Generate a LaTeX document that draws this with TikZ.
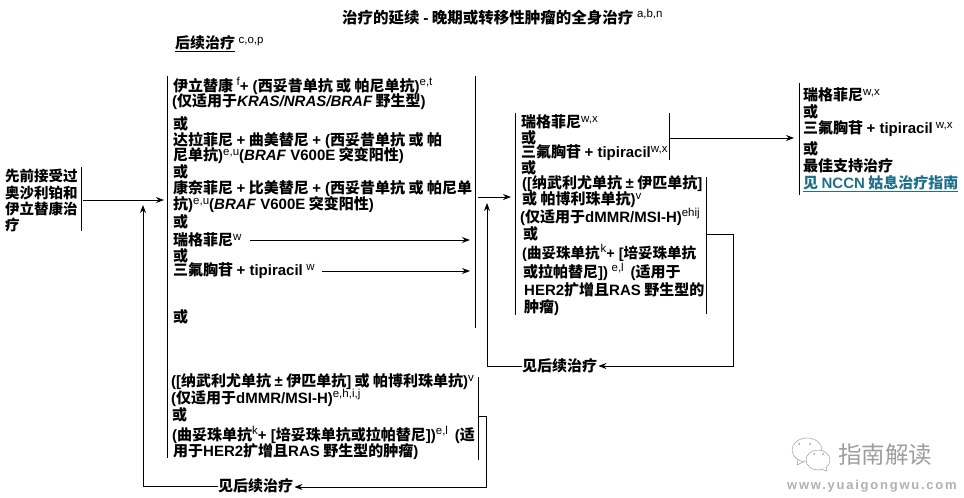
\documentclass[tikz,border=0pt]{standalone}
\usepackage{fontspec}
\setmainfont{Noto Sans CJK SC}
\newfontfamily\lat{Liberation Sans}
\usetikzlibrary{arrows.meta}
\definecolor{linkteal}{HTML}{1F6F8B}
\definecolor{markgray}{gray}{0.62}
\newcommand{\en}[1]{{\lat #1}}
\newcommand{\sps}[1]{\raisebox{5.5pt}{\fontsize{11.5}{11.5}\lat\mdseries #1}}
\tikzset{
  txt/.style={anchor=west, inner sep=0pt, font=\fontsize{15}{15}\selectfont\bfseries},
  txtsmall/.style={txt, font=\fontsize{14.5}{15}\selectfont\bfseries},
  bar/.style={line width=1pt},
  arr/.style={line width=1pt, -{Stealth[length=8pt,width=6pt]}}
}
\begin{document}
\begin{tikzpicture}[x=1pt,y=-1pt]
    \useasboundingbox (0,0) rectangle (964,498);

    % Title and heading
    \node[txt, font=\fontsize{15.5}{15.5}\selectfont\bfseries] (title) at (342,17) {治疗的延续 \en{-} 晚期或转移性肿瘤的全身治疗 \sps{a,b,n}};
    \node[txt] (nexthead) at (175,44) {\underline{后续治疗} \sps{c,o,p}};

    % Prior therapy
    \node[txtsmall] (priorA) at (5,176) {先前接受过};
    \node[txtsmall] (priorB) at (5,193) {奥沙利铂和};
    \node[txtsmall] (priorC) at (5,209) {伊立替康治};
    \node[txtsmall] (priorD) at (5,225) {疗};
    \draw[bar] (81,167) -- (81,231);

    % First list of options
    \node[txt] (iriA) at (173,86) {伊立替康 \sps{f}\en{+ (}西妥昔单抗 或 帕尼单抗\en{)}\sps{e,t}};
    \node[txt] (iriB) at (172,102) {\en{(}仅适用于\en{\itshape KRAS/NRAS/BRAF} 野生型\en{)}};
    \node[txt] (orA) at (173,124) {或};
    \node[txt] (dabA) at (173,140) {达拉菲尼 \en{+} 曲美替尼 \en{+ (}西妥昔单抗 或 帕};
    \node[txt] (dabB) at (173,156) {尼单抗\en{)}\sps{e,u}\en{(\textit{BRAF} V600E} 突变阳性\en{)}};
    \node[txt] (orB) at (173,172) {或};
    \node[txt] (encA) at (173,189) {康奈菲尼 \en{+} 比美替尼 \en{+ (}西妥昔单抗 或 帕尼单};
    \node[txt] (encB) at (173,205) {抗\en{)}\sps{e,u}\en{(\textit{BRAF} V600E} 突变阳性\en{)}};
    \node[txt] (orC) at (173,222) {或};
    \node[txt] (regA) at (173,240) {瑞格菲尼\sps{w}};
    \node[txt] (orD) at (173,255.5) {或};
    \node[txt] (tasA) at (173,271) {三氟胸苷 \en{+ tipiracil} \sps{w}};
    \node[txt] (orE) at (173,317) {或};
    \node[txt] (nivA) at (171,382) {\en{([}纳武利尤单抗 \en{±} 伊匹单抗\en{]} 或 帕博利珠单抗\en{)}\sps{v}};
    \node[txt] (nivB) at (171,398) {\en{(}仅适用于\en{dMMR/MSI-H)}\sps{e,h,i,j}};
    \node[txt] (orF) at (172,415) {或};
    \node[txt] (traA) at (172,435) {\en{(}曲妥珠单抗\sps{k}\en{+ [}培妥珠单抗或拉帕替尼\en{])}\sps{e,l}\ \ \en{(}适};
    \node[txt] (traB) at (173,452) {用于\en{HER2}扩增且\en{RAS} 野生型的肿瘤\en{)}};
    \draw[bar] (167,76) -- (167,458);
    \draw[bar] (475,76) -- (475,328);
    \draw[bar] (478,377) -- (478,460);

    % Second list of options
    \node[txt] (regB) at (521,122) {瑞格菲尼\sps{w,x}};
    \node[txt] (orG) at (521,138) {或};
    \node[txt] (tasB) at (521,153) {三氟胸苷 \en{+ tipiracil}\sps{w,x}};
    \node[txt] (orH) at (521,168) {或};
    \node[txt] (nivC) at (522,184) {\en{([}纳武利尤单抗 \en{±} 伊匹单抗\en{]}};
    \node[txt] (nivD) at (522,200) {或 帕博利珠单抗\en{)}\sps{v}};
    \node[txt] (nivE) at (520,217) {\en{(}仅适用于\en{dMMR/MSI-H)}\sps{ehij}};
    \node[txt] (orI) at (523,234) {或};
    \node[txtsmall] (traC) at (522,253) {\en{(}曲妥珠单抗\hspace{1pt}\sps{k}\en{+ [}培妥珠单抗};
    \node[txt] (traD) at (523,272) {或拉帕替尼\en{])} \sps{e,l}\ \ \en{(}适用于};
    \node[txt] (traE) at (524,290) {\en{HER2}扩增且\en{RAS} 野生型的};
    \node[txt] (traF) at (524,308) {肿瘤\en{)}};
    \draw[bar] (515,113) -- (515,315);
    \draw[bar] (669,113) -- (669,160);
    \draw[bar] (706,177) -- (706,314);

    % Third list of options
    \node[txt] (regC) at (803,95) {瑞格菲尼\sps{w,x}};
    \node[txt] (orJ) at (803,112) {或};
    \node[txt] (tasC) at (803,129) {三氟胸苷 \en{+ tipiracil}\hspace{3pt}\sps{w,x}};
    \node[txt] (orK) at (803,149) {或};
    \node[txt] (bsc) at (803,166) {最佳支持治疗};
    \node[txt, text=linkteal] (palli) at (803,184) {\underline{见 \en{NCCN} 姑息治疗指南}};
    \draw[bar] (799,83) -- (799,195);

    % See next therapy labels
    \node[txt] (seeA) at (218,486) {见后续治疗};
    \node[txt] (seeB) at (522,366) {见后续治疗};

    % Free ends of the connectors
    \coordinate (priorOut) at (83,200);
    \coordinate (mainIn) at (164,200);
    \coordinate (regEnd) at (470,240);
    \coordinate (tasEnd) at (470,271);
    \coordinate (mainOut) at (478,197);
    \coordinate (secIn) at (511,197);
    \coordinate (secOut) at (669,138);
    \coordinate (thirdIn) at (794,138);
    \coordinate (loopA) at (479,416);
    \coordinate (loopAin) at (143,205);
    \coordinate (loopB) at (707,234);
    \coordinate (loopBin) at (487,203);

    % Connectors
    \draw[arr] (priorOut) -- (mainIn);
    \draw[arr, shorten <=8pt] (regA.east) -- (regA.east -| regEnd);
    \draw[arr, shorten <=7pt] (tasA.east) -- (tasA.east -| tasEnd);
    \draw[arr] (mainOut) -- (secIn);
    \draw[arr] (secOut) -- (thirdIn);
    \draw[arr, shorten >=1pt] (loopA) -- (486,416) -- (486,487) -- (seeA.east |- 0,487);
    \draw[arr] (seeA.west) -- (143,486) -- (loopAin);
    \draw[arr, shorten >=1pt] (loopB) -- (733,234) -- (733,366) -- (seeB.east);
    \draw[arr] (seeB.west) -- (487,366) -- (loopBin);

    % Watermark
    \draw[markgray, line width=0.5pt] (807,450) ellipse (15 and 12);
    \draw[markgray, line width=0.5pt] (798,459) -- (797,465) -- (804,461.5);
    \fill[markgray] (799,444) circle (1) (810,444) circle (1);
    \draw[markgray, line width=0.5pt, fill=white] (818,460) ellipse (12 and 10);
    \draw[markgray, line width=0.5pt, fill=white] (822,469.5) -- (827,471) -- (826,467);
    \fill[markgray] (814,454) circle (1) (823,454) circle (1);
    \node[inner sep=0pt, anchor=west, text=markgray, font=\fontsize{23.5}{24}\selectfont] (markA) at (838,455) {指南解读};
    \node[inner sep=0pt, anchor=west, text=markgray!80, font=\fontsize{13}{13}\lat\bfseries\addfontfeature{LetterSpace=13.5}] (markB) at (787,486) {www.yuaigongwu.com};
\end{tikzpicture}
\end{document}
